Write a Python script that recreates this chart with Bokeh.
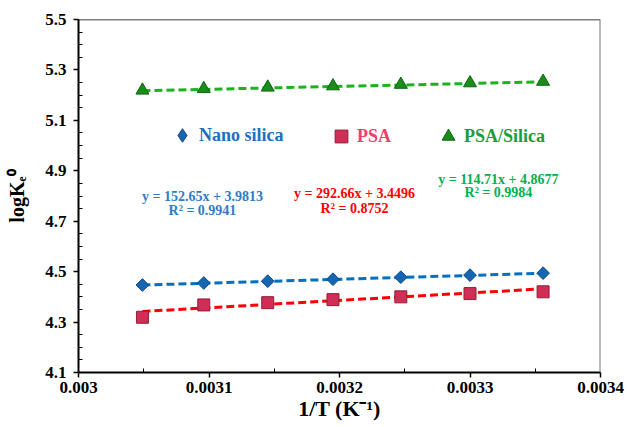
import math
from bokeh.plotting import figure
from bokeh.models import (FixedTicker, CustomJSTickFormatter, Span, Label,
                          Legend, LegendItem, ColumnDataSource)
from bokeh.embed import file_html
from bokeh.resources import INLINE

# ---- data ----
inv_T = [0.003049, 0.003096, 0.003145, 0.003195, 0.003247, 0.003300, 0.003356]
nano_silica = [4.447, 4.455, 4.462, 4.470, 4.478, 4.486, 4.494]
psa = [4.319, 4.368, 4.377, 4.389, 4.400, 4.413, 4.420]
psa_silica = [5.219, 5.225, 5.231, 5.236, 5.242, 5.248, 5.254]

# linear fits shown on the chart (slope, intercept, R2)
fit_nano = (152.65, 3.9813, 0.9941)
fit_psa = (292.66, 3.4496, 0.8752)
fit_psa_silica = (114.71, 4.8677, 0.9984)

x_ticks = [0.003, 0.0031, 0.0032, 0.0033, 0.0034]
y_ticks = [4.1, 4.3, 4.5, 4.7, 4.9, 5.1, 5.3, 5.5]

FONT = "Liberation Serif"

p = figure(width=627, height=427, output_backend="svg", toolbar_location=None,
           x_range=(0.003, 0.0034), y_range=(4.1, 5.5),
           min_border_left=78, min_border_right=27, min_border_top=19,
           min_border_bottom=55)
p.outline_line_color = None
p.xgrid.grid_line_color = None
p.ygrid.grid_line_color = None
p.background_fill_color = "white"
p.border_fill_color = "white"

x_minor = [round(a + 0.00005, 6) for a in x_ticks[:-1]]
y_minor = [round(4.1 + 0.05 * i, 3) for i in range(29) if i % 4 != 0]
p.xaxis.ticker = FixedTicker(ticks=x_ticks, minor_ticks=x_minor)
p.yaxis.ticker = FixedTicker(ticks=y_ticks, minor_ticks=y_minor)
p.xaxis.formatter = CustomJSTickFormatter(code="return tick.toFixed(4).replace(/0+$/, '');")
p.yaxis.formatter = CustomJSTickFormatter(code="return tick.toFixed(1);")

for ax in (p.xaxis, p.yaxis):
    ax.axis_line_color = "black"
    ax.axis_line_width = 2
    ax.major_tick_line_color = "black"
    ax.major_tick_line_width = 1.5
    ax.minor_tick_line_color = "black"
    ax.minor_tick_line_width = 1
    ax.major_tick_out = 5
    ax.major_tick_in = 0
    ax.minor_tick_in = 4
    ax.minor_tick_out = 0
    ax.major_label_text_font = FONT
    ax.major_label_text_font_style = "bold"
    ax.major_label_text_font_size = "17px"
    ax.major_label_text_color = "black"
    ax.axis_label_text_font = FONT
    ax.axis_label_text_font_style = "bold"
    ax.axis_label_text_color = "black"

p.xaxis.axis_label = "1/T (K\u207b\u00b9)"
p.yaxis.axis_label = "logK\u2091\u2070"
p.xaxis.axis_label_text_font_size = "22px"
p.yaxis.axis_label_text_font_size = "20px"
p.xaxis.major_label_standoff = 4
p.yaxis.major_label_standoff = 7
p.xaxis.axis_label_standoff = 0
p.yaxis.axis_label_standoff = 14

# top / right frame lines
p.add_layout(Span(location=5.5, dimension="width", line_color="black", line_width=1.5))
p.add_layout(Span(location=0.0034, dimension="height", line_color="#777777", line_width=2))

# trend lines
def trend(fit):
    xs = [min(inv_T), max(inv_T)]
    return xs, [fit[1] + fit[0] * x for x in xs]

for fit, col in ((fit_nano, "#0070C0"), (fit_psa, "#FF0000"), (fit_psa_silica, "#1DB21D")):
    xs, ys = trend(fit)
    p.line(xs, ys, line_color=col, line_width=3, line_dash="8 4")

src = ColumnDataSource(dict(x=inv_T, nano=nano_silica, psa=psa, ps=psa_silica))
r_nano = p.scatter("x", "nano", source=src, marker="square", angle=math.pi / 4, size=9,
                   fill_color="#1565B0", line_color="#0D4A85", line_width=1)
r_psa = p.scatter("x", "psa", source=src, marker="square", size=12,
                  fill_color="#D02E56", line_color="#8E1F3C", line_width=1)
r_ps = p.scatter("x", "ps", source=src, marker="triangle", size=13,
                 fill_color="#1A8C1A", line_color="#0F640F", line_width=1)
# zero-size twin of the Nano silica series, used only for its diamond legend glyph
r_nano_key = p.scatter("x", "nano", source=src, marker="diamond", size=0,
                       fill_color="#1565B0", line_color="#0D4A85", line_width=1)

# legends (one per series so that each label keeps its own colour)
def add_legend(label, rend, color, loc, g):
    lg = Legend(items=[LegendItem(label=label, renderers=[rend])], location=loc,
                orientation="horizontal", border_line_color=None,
                background_fill_alpha=0, padding=0, margin=0, spacing=0,
                glyph_width=g, glyph_height=g, label_standoff=0, label_height=20,
                label_text_font=FONT, label_text_font_style="bold",
                label_text_font_size="18px", label_text_color=color)
    p.add_layout(lg)

add_legend("Nano silica", r_nano_key, "#1F6FC0", (87, 220), 34)
add_legend("PSA", r_psa, "#F0406A", (247, 220), 32)
add_legend("PSA/Silica", r_ps, "#1E9B3C", (354, 220), 32)

# equation labels
def eq_labels(fit, color, x, y1, y2):
    t1 = "y = %.2fx + %.4f" % (fit[0], fit[1])
    t2 = "R\u00b2 = %.4f" % fit[2]
    for t, yy in ((t1, y1), (t2, y2)):
        p.add_layout(Label(x=x, y=yy, text=t, text_align="center", text_baseline="middle",
                           text_font=FONT, text_font_style="bold", text_font_size="14px",
                           text_color=color))

eq_labels(fit_nano, "#2E7CC4", 0.003095, 4.798, 4.743)
eq_labels(fit_psa, "#FF0000", 0.0032115, 4.810, 4.7505)
eq_labels(fit_psa_silica, "#00B050", 0.0033218, 4.8656, 4.814)

open("out.html", "w").write(file_html(p, INLINE))
